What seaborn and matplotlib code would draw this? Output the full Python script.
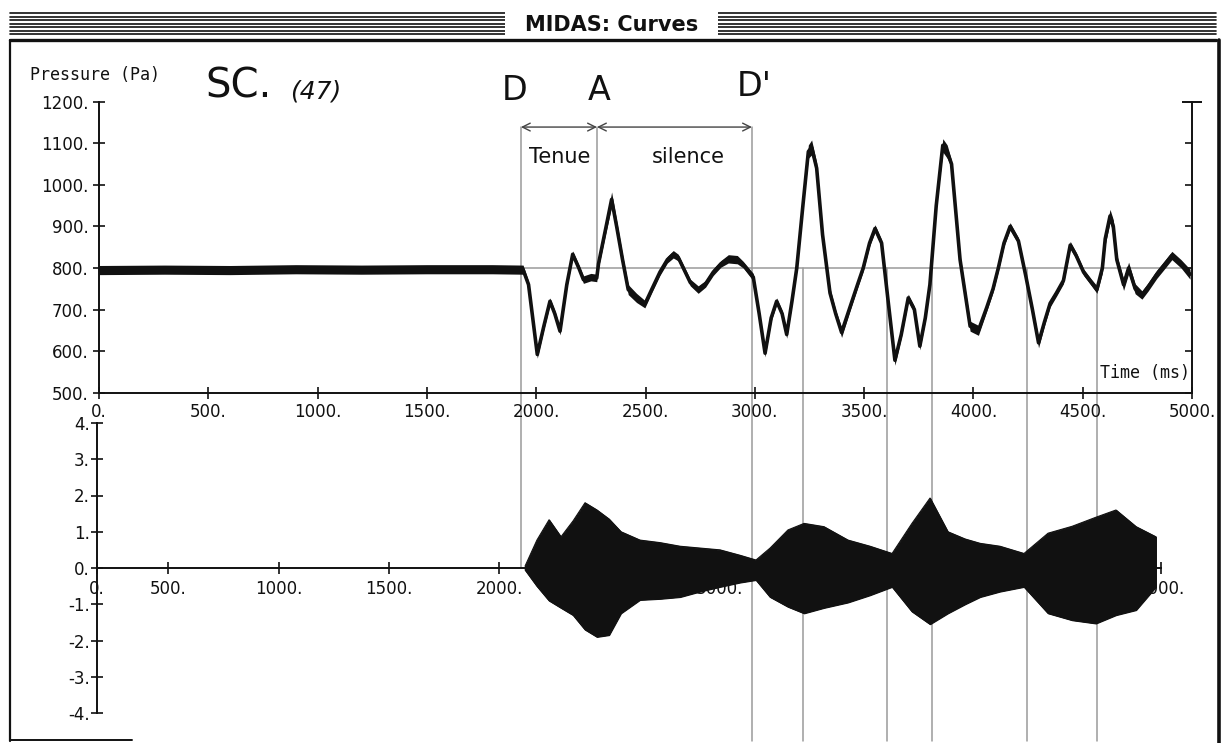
import matplotlib
matplotlib.use("Agg")
import matplotlib.pyplot as plt
import seaborn as sns
from matplotlib.lines import Line2D
from matplotlib.patches import Rectangle

# ---------------- data ----------------
time_ms = [0, 300, 600, 900, 1200, 1500, 1800, 1940, 1965, 2005, 2035, 2063, 2085, 2109,
           2140, 2167, 2195, 2216, 2250, 2277, 2285, 2320, 2345, 2368, 2395, 2421, 2459,
           2497, 2530, 2566, 2600, 2627, 2650, 2672, 2705, 2741, 2775, 2810, 2845, 2879,
           2920, 2947, 2993, 3020, 3047, 3075, 3100, 3125, 3146, 3170, 3192, 3220, 3245,
           3260, 3283, 3310, 3344, 3370, 3397, 3435, 3470, 3496, 3525, 3550, 3580, 3610,
           3641, 3670, 3702, 3730, 3755, 3780, 3801, 3830, 3860, 3880, 3900, 3939, 3985,
           4023, 4061, 4090, 4114, 4140, 4168, 4206, 4240, 4270, 4298, 4325, 4351, 4380,
           4412, 4443, 4470, 4504, 4540, 4565, 4590, 4603, 4625, 4640, 4656, 4687, 4710,
           4740, 4771, 4800, 4839, 4870, 4908, 4950, 4991]
pressure_pa = [795, 796, 795, 797, 796, 797, 797, 796, 760, 592, 660, 720, 690, 648,
               760, 833, 800, 772, 778, 776, 810, 900, 965, 900, 820, 748, 728,
               713, 750, 790, 820, 833, 825, 801, 765, 748, 762, 790, 810, 822,
               820, 808, 778, 690, 595, 680, 720, 690, 640, 720, 800, 950, 1080,
               1090, 1040, 880, 740, 690, 645, 705, 760, 800, 860, 895, 860, 720,
               578, 640, 728, 700, 612, 680, 760, 950, 1095, 1080, 1050, 820, 660,
               650, 705, 750, 800, 860, 900, 865, 780, 700, 620, 670, 715, 740,
               770, 855, 830, 790, 765, 748, 800, 870, 925, 900, 820, 760, 800,
               750, 735, 755, 785, 805, 830, 810, 785]
pressure_noise = [11, 11, 11, 11, 11, 11, 11, 11, 8, 9, 8, 8, 8, 9,
                  8, 8, 8, 9, 9, 9, 9, 12, 18, 14, 12, 12, 11,
                  9, 8, 8, 8, 9, 8, 8, 8, 9, 8, 8, 8, 10,
                  10, 8, 9, 8, 9, 8, 8, 8, 9, 8, 8, 9, 16,
                  18, 14, 9, 12, 9, 12, 9, 8, 8, 8, 9, 8, 8,
                  12, 8, 9, 8, 9, 8, 8, 9, 16, 16, 9, 12, 12,
                  12, 9, 8, 8, 8, 9, 8, 8, 8, 12, 9, 9, 8,
                  8, 9, 8, 8, 8, 9, 12, 14, 16, 16, 12, 14, 14,
                  12, 10, 10, 10, 10, 10, 10, 12]

# lower panel: envelope of the signal (lower panel's own time scale)
env_time = [2117, 2171, 2226, 2280, 2335, 2389, 2443, 2498, 2552, 2638, 2729, 2820,
            2910, 3001, 3092, 3164, 3228, 3309, 3382, 3472, 3581, 3681, 3781, 3871,
            3953, 4034, 4112, 4180, 4270, 4379, 4488, 4597, 4705, 4796, 4887, 4977]
env_upper = [0.05, 0.77, 1.33, 0.86, 1.30, 1.80, 1.60, 1.35, 1.00, 0.77, 0.70, 0.60,
             0.55, 0.50, 0.35, 0.22, 0.55, 1.05, 1.23, 1.14, 0.77, 0.60, 0.40, 1.23,
             1.93, 1.00, 0.80, 0.68, 0.60, 0.40, 0.96, 1.15, 1.40, 1.60, 1.14, 0.86]
env_lower = [-0.05, -0.50, -0.90, -1.10, -1.30, -1.70, -1.90, -1.85, -1.25, -0.88, -0.85, -0.80,
             -0.65, -0.52, -0.40, -0.33, -0.80, -1.07, -1.25, -1.10, -0.95, -0.75, -0.52, -1.20,
             -1.55, -1.25, -1.00, -0.80, -0.65, -0.52, -1.25, -1.44, -1.53, -1.30, -1.16, -0.52]

top_xticks = [0, 500, 1000, 1500, 2000, 2500, 3000, 3500, 4000, 4500, 5000]
top_yticks = [500, 600, 700, 800, 900, 1000, 1100, 1200]
bot_xticks = [0, 500, 1000, 1500, 2000, 2500, 3000, 3500, 4000, 4500, 5000]
bot_yticks = [-4, -3, -2, -1, 0, 1, 2, 3, 4]

reference_pa = 800
event_times = [1930, 2278, 2987]            # D, A, D'
event_labels = ["D", "A", "D'"]
phase_labels = ["Tenue", "silence"]
marker_times = [3220, 3605, 3811, 4245, 4565]
marker_start_pa = [800, 800, 800, 800, 745]

# ---------------- figure ----------------
sns.set_theme(style="white", context="notebook")
plt.rcParams["font.family"] = ["DejaVu Sans"]

W, H = 1225, 743
fig = plt.figure(figsize=(W / 100, H / 100), dpi=100)
fig.patch.set_facecolor("white")


def fx(px):
    return px / W


def fy(py):
    return 1 - py / H


INK = "#111111"
GREY = "#9a9a9a"
TICKFONT = 12

# top axes
ax = fig.add_axes([fx(99), fy(392.7), (1192 - 99) / W, (392.7 - 101.7) / H])
ax.patch.set_visible(False)
ax.set_xlim(0, 5000)
ax.set_ylim(500, 1200)
for s in ["left", "bottom", "right"]:
    ax.spines[s].set_color(INK)
    ax.spines[s].set_linewidth(1.4)
ax.spines["top"].set_visible(False)
ax.set_xticks(top_xticks)
ax.set_xticklabels([f"{v}." for v in top_xticks])
ax.set_yticks(top_yticks)
ax.set_yticklabels([f"{v}." for v in top_yticks])
ax.tick_params(axis="both", direction="inout", length=8, width=1.2, color=INK,
               labelsize=TICKFONT, labelcolor=INK, pad=3.5, bottom=True, left=True,
               right=False, top=False)

tw = ax.twinx()
tw.set_ylim(500, 1200)
for s in tw.spines.values():
    s.set_visible(False)
tw.set_yticks(top_yticks[:-1])
tw.set_yticklabels([])
tw.set_yticks([top_yticks[-1]], minor=True)
tw.tick_params(axis="y", which="major", direction="in", length=5, width=1.2,
               color=INK, right=True, left=False)
tw.tick_params(axis="y", which="minor", direction="inout", length=14, width=1.4,
               color=INK, right=True, left=False)
tw.grid(False)

# pressure curve
lo = [p - n for p, n in zip(pressure_pa, pressure_noise)]
hi = [p + n for p, n in zip(pressure_pa, pressure_noise)]
ax.fill_between(time_ms, lo, hi, color=INK, lw=0, zorder=3)
sns.lineplot(x=time_ms, y=pressure_pa, ax=ax, color=INK, lw=2.6, sort=False,
             estimator=None, zorder=4)
ax.set_xlabel("")
ax.set_ylabel("")

# reference line and annotations
ax.plot([event_times[0], 5000], [reference_pa, reference_pa], color=GREY, lw=1.1, zorder=2)
arrow_pa = 1139
for a, b in [(event_times[0], event_times[1]), (event_times[1], event_times[2])]:
    ax.annotate("", xy=(b, arrow_pa), xytext=(a, arrow_pa),
                arrowprops=dict(arrowstyle="<->", color="#444444", lw=1.0,
                                shrinkA=0, shrinkB=0, mutation_scale=14))

# bottom axes
ax2 = fig.add_axes([fx(96.7), fy(713), (1192 - 96.7) / W, (713 - 423) / H])
ax2.patch.set_visible(False)
b0 = (96.7 - 58) / 0.2206
ax2.set_xlim(b0, (1192 - 58) / 0.2206)
ax2.set_ylim(-4, 4)
ax2.spines["top"].set_visible(False)
ax2.spines["right"].set_visible(False)
ax2.spines["bottom"].set_position(("data", 0))
ax2.spines["bottom"].set_bounds(b0, 5000)
for s in ["left", "bottom"]:
    ax2.spines[s].set_color(INK)
    ax2.spines[s].set_linewidth(1.4)
ax2.set_xticks([b0] + bot_xticks[1:])
ax2.set_xticklabels([f"{v}." for v in bot_xticks])
ax2.set_yticks(bot_yticks)
ax2.set_yticklabels([f"{v}." for v in bot_yticks])
ax2.tick_params(axis="both", direction="inout", length=8, width=1.2, color=INK,
                labelsize=TICKFONT, labelcolor=INK, bottom=True, left=True)
ax2.tick_params(axis="x", pad=5)
ax2.tick_params(axis="y", pad=1)

ax2.fill_between(env_time, env_lower, env_upper, color=INK, lw=0.8, edgecolor=INK, zorder=3)
sns.lineplot(x=env_time, y=env_upper, ax=ax2, color=INK, lw=0.8, sort=False, estimator=None, zorder=3)
sns.lineplot(x=env_time, y=env_lower, ax=ax2, color=INK, lw=0.8, sort=False, estimator=None, zorder=3)
ax2.set_xlabel("")
ax2.set_ylabel("")


# vertical marker lines (span both panels) in figure coordinates
def top_fig(t, p):
    return fig.transFigure.inverted().transform(ax.transData.transform((t, p)))


def bot_fig_y(v):
    return fig.transFigure.inverted().transform(ax2.transData.transform((b0, v)))[1]


vlines = []
x0, y0 = top_fig(event_times[0], arrow_pa)
vlines.append((x0, y0, bot_fig_y(0)))
x1, y1 = top_fig(event_times[1], arrow_pa)
vlines.append((x1, y1, top_fig(event_times[1], reference_pa)[1]))
x2, y2 = top_fig(event_times[2], arrow_pa)
vlines.append((x2, y2, fy(741)))
for t, p in zip(marker_times, marker_start_pa):
    xm, ym = top_fig(t, p)
    vlines.append((xm, ym, fy(741)))
for xv, ya, yb in vlines:
    fig.add_artist(Line2D([xv, xv], [ya, yb], color=GREY, lw=1.1, zorder=-1,
                          transform=fig.transFigure))

# texts
fig.text(fx(30), fy(75), "Pressure (Pa)", family="DejaVu Sans Mono", fontsize=12,
         ha="left", va="center", color=INK)
fig.text(fx(1190), fy(373), "Time (ms)", family="DejaVu Sans Mono", fontsize=12,
         ha="right", va="center", color=INK)
fig.text(fx(205), fy(86), "SC.", fontsize=29, ha="left", va="center", color=INK)
fig.text(fx(290), fy(91), "(47)", fontsize=18, ha="left", va="center", color=INK,
         style="italic", weight="light")
for lab, px, py in zip(event_labels, [515, 599, 754], [90, 90, 87]):
    fig.text(fx(px), fy(py), lab, fontsize=24, ha="center", va="center", color=INK)
for lab, px in zip(phase_labels, [560, 688]):
    fig.text(fx(px), fy(157), lab, fontsize=15, ha="center", va="center", color=INK)

# window frame
for yy in [13, 16.5, 20, 23.5, 27, 30.5, 34]:
    fig.add_artist(Line2D([fx(10), fx(1216)], [fy(yy), fy(yy)], color=INK, lw=1.2,
                          transform=fig.transFigure))
fig.add_artist(Line2D([fx(10), fx(1216)], [fy(40), fy(40)], color=INK, lw=2.4,
                      transform=fig.transFigure))
fig.add_artist(Rectangle((fx(505), fy(37)), 213 / W, 27 / H, facecolor="white",
                         edgecolor="none", transform=fig.transFigure, zorder=5))
fig.text(fx(612), fy(25), "MIDAS: Curves", fontsize=15, weight="bold", ha="center",
         va="center", color=INK, zorder=6)
fig.add_artist(Line2D([fx(10), fx(10)], [fy(40), fy(741)], color=INK, lw=1.6,
                      transform=fig.transFigure))
fig.add_artist(Line2D([fx(1219), fx(1219)], [fy(40), fy(743)], color=INK, lw=2.6,
                      transform=fig.transFigure))
fig.add_artist(Line2D([fx(10), fx(132)], [fy(740), fy(740)], color=INK, lw=1.4,
                      transform=fig.transFigure))

fig.savefig("out.png", dpi=100, facecolor="white")
